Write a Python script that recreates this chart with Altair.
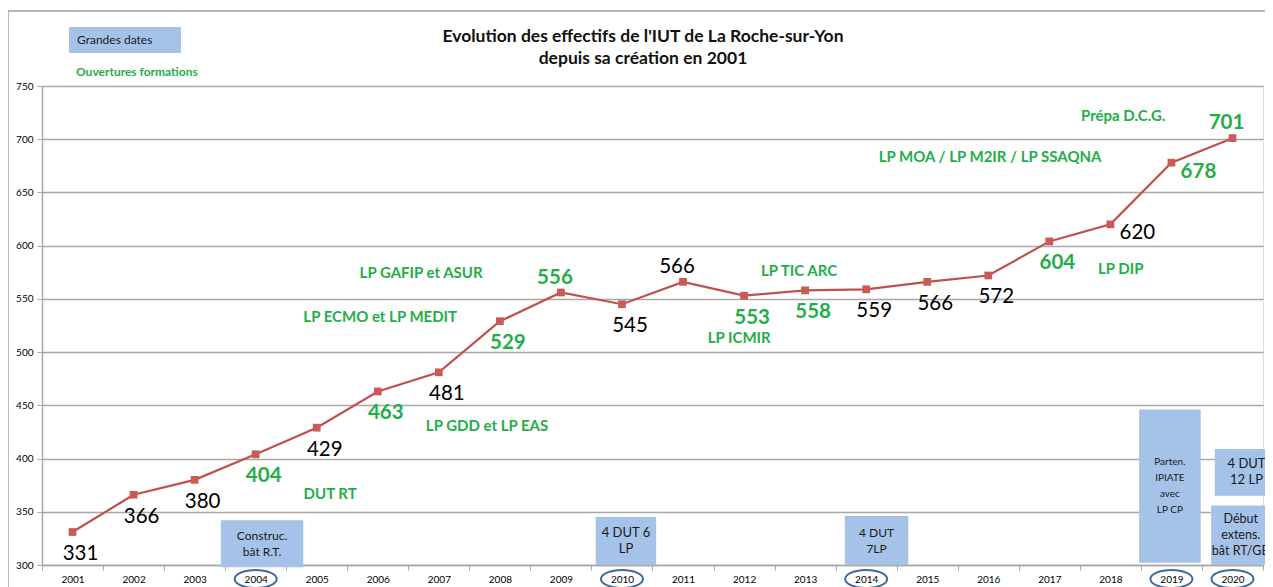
import altair as alt
import pandas as pd

# ---------------- data ----------------
annees = ["2001", "2002", "2003", "2004", "2005", "2006", "2007", "2008", "2009", "2010",
          "2011", "2012", "2013", "2014", "2015", "2016", "2017", "2018", "2019", "2020"]
effectifs = [331, 366, 380, 404, 429, 463, 481, 529, 556, 545,
             566, 553, 558, 559, 566, 572, 604, 620, 678, 701]
nouvelle_formation = [False, False, False, True, False, True, False, True, True, False,
                      False, True, True, False, False, False, True, False, True, True]
cote_etiquette = ["below", "below", "below", "below", "below", "below", "below", "below", "above", "below",
                  "above", "below", "below", "below", "below", "below", "below", "right", "right", "above"]

y_ticks = [300, 350, 400, 450, 500, 550, 600, 650, 700, 750]

titre = "Evolution des effectifs de l'IUT de La Roche-sur-Yon\ndepuis sa création en 2001"

# openings of new courses (anchor in year units / head-count units)
ouv_texte = ["DUT RT", "LP ECMO et LP MEDIT", "LP GAFIP et ASUR", "LP GDD et LP EAS", "LP ICMIR",
             "LP TIC ARC", "LP DIP", "LP MOA / LP M2IR / LP SSAQNA", "Prépa D.C.G."]
ouv_annee = [2005.22, 2006.04, 2006.71, 2007.79, 2011.92, 2012.90, 2018.17, 2016.03, 2018.21]
ouv_valeur = [367, 533, 574, 431, 513, 576, 578, 683, 722]

# key dates boxes
dates_texte = ["Construc.\nbât R.T.", "4 DUT 6\nLP", "4 DUT\n7LP", "Parten.\nIPIATE\navec\nLP CP",
               "4 DUT\n12 LP", "Début\nextens.\nbât RT/GB"]
dates_debut = [2003.43, 2009.57, 2013.65, 2018.47, 2019.71, 2019.65]
dates_fin = [2004.78, 2010.56, 2014.69, 2019.48, 2020.75, 2020.62]
dates_haut = [342, 345, 346, 446, 409, 356]
dates_bas = [298, 300, 300, 302, 365, 300]
dates_taille = [12, 13, 12, 10, 13, 12.5]

annees_cerclees = ["2004", "2010", "2014", "2019", "2020"]

# ---------------- styles ----------------
RED = "#c0504d"
GREEN = "#1fae48"
BLUE = "#a5c3e9"
GRID = "#a8a8a8"
FONT = "Lato"
W, H = 1221, 479
LH = 16  # line height of box texts (px)
PX_PER_UNIT = H / 450.0

df = pd.DataFrame({"annee": annees, "effectif": effectifs,
                   "nouveau": nouvelle_formation, "pos": cote_etiquette})
df_ouv = pd.DataFrame({"texte": ouv_texte, "an": ouv_annee, "val": ouv_valeur})
df_dates = pd.DataFrame({"texte": dates_texte, "x1": dates_debut, "x2": dates_fin,
                         "haut": dates_haut, "bas": dates_bas, "taille": dates_taille})
df_cercle = pd.DataFrame({"annee": annees_cerclees})
one = pd.DataFrame({"k": [0]})

y_axis = alt.Axis(values=y_ticks, title=None, grid=True, gridColor=GRID, gridWidth=1.5,
                  domainColor=GRID, domainWidth=1.5, tickColor=GRID, tickSize=5,
                  labelFont=FONT, labelFontSize=10, labelColor="#000", labelPadding=4)
y_scale = alt.Scale(domain=[300, 750], nice=False, zero=False)


def Y(field):
    return alt.Y(field, scale=y_scale, axis=y_axis)


band_scale = alt.Scale(domain=annees, paddingInner=0, paddingOuter=0)
x_axis = alt.Axis(title=None, labelAngle=0, tickBand="extent", grid=False,
                  domainColor=GRID, domainWidth=1.5, tickColor=GRID, tickSize=5,
                  labelFont=FONT, labelFontSize=10, labelColor="#000", labelPadding=4)
x_main = alt.X("annee:O", scale=band_scale, axis=x_axis)
x_band = alt.X("annee:O", scale=band_scale, axis=None)
q_scale = alt.Scale(domain=[2000.5, 2020.5], nice=False, zero=False)

base = alt.Chart(df)

# key-date boxes
boxes = alt.Chart(df_dates).mark_rect(color=BLUE).encode(
    x=alt.X("x1:Q", scale=q_scale, axis=None), x2="x2:Q",
    y=Y("haut:Q"), y2="bas:Q")
box_txt = alt.Chart(df_dates).transform_calculate(
    xm="(datum.x1 + datum.x2) / 2",
    ym=f"(datum.haut + datum.bas) / 2 + (length(split(datum.texte, '\\n')) - 1) / 2 * {LH} / {PX_PER_UNIT}"
).mark_text(font=FONT, color="#1a1a1a", lineBreak="\n", baseline="middle", lineHeight=LH).encode(
    x=alt.X("xm:Q", scale=q_scale, axis=None), y=Y("ym:Q"),
    text="texte:N", size=alt.Size("taille:Q", scale=None, legend=None))

line = base.mark_line(color=RED, strokeWidth=2.2).encode(x=x_main, y=Y("effectif:Q"))
pts = base.mark_point(shape="square", filled=True, size=60, color="#c95b57", opacity=1).encode(
    x=x_band, y=Y("effectif:Q"))

label_layers = []
offsets = {"below": (8, 22), "above": (-6, -15), "right": (27, 9)}
for pos, (dx, dy) in offsets.items():
    for nouveau in (True, False):
        label_layers.append(
            base.transform_filter(
                f"datum.pos == '{pos}' && datum.nouveau == {'true' if nouveau else 'false'}"
            ).mark_text(font=FONT, fontSize=20.5, dx=dx, dy=dy, baseline="middle",
                        fontWeight="bold" if nouveau else "normal",
                        color=GREEN if nouveau else "#000").encode(
                x=x_band, y=Y("effectif:Q"), text="effectif:Q"))

ouv = alt.Chart(df_ouv).mark_text(font=FONT, fontSize=15, fontWeight="bold", color=GREEN,
                                  baseline="middle").encode(
    x=alt.X("an:Q", scale=q_scale, axis=None), y=Y("val:Q"), text="texte:N")

ellipse = "M -1 0 A 1 0.43 0 1 0 1 0 A 1 0.43 0 1 0 -1 0 Z"
cercles = alt.Chart(df_cercle).mark_point(shape=ellipse, size=1764, filled=False,
                                          stroke="#3f6a99", strokeWidth=2, opacity=1).encode(
    x=x_band, y=alt.value(H + 14))

# frame, title and legend (decoration)
frame_top = alt.Chart(one).mark_rule(color="#a0a0a0", strokeWidth=1.5).encode(
    x=alt.value(-34), x2=alt.value(W + 2), y=alt.value(-75))
frame_left = alt.Chart(one).mark_rule(color="#a0a0a0", strokeWidth=1.5).encode(
    x=alt.value(-34), y=alt.value(-75), y2=alt.value(H + 30))
title_txt = alt.Chart(one).mark_text(font=FONT, fontSize=17.5, fontWeight="bold", color="#111",
                                     align="center", baseline="middle", lineBreak="\n",
                                     lineHeight=22, text=titre).encode(
    x=alt.value(601), y=alt.value(-49))
leg_box = alt.Chart(one).mark_rect(color=BLUE).encode(
    x=alt.value(27), x2=alt.value(139), y=alt.value(-59), y2=alt.value(-33))
leg_txt1 = alt.Chart(one).mark_text(font=FONT, fontSize=12, color="#1a1a1a", align="left",
                                    baseline="middle", text="Grandes dates").encode(
    x=alt.value(35), y=alt.value(-46))
leg_txt2 = alt.Chart(one).mark_text(font=FONT, fontSize=12, fontWeight="bold", color=GREEN,
                                    align="left", baseline="middle",
                                    text="Ouvertures formations").encode(
    x=alt.value(34), y=alt.value(-14))

chart = alt.layer(
    frame_top, frame_left, title_txt, leg_box, leg_txt1, leg_txt2,
    boxes, box_txt, line, pts, *label_layers, ouv, cercles
).resolve_scale(x="independent").properties(
    width=W, height=H,
    autosize=alt.AutoSizeParams(type="none"),
    padding={"left": 34, "top": 78, "right": 2, "bottom": 22},
).configure_view(stroke=None).configure(background="white")

chart.save("out.html", embed_options={"renderer": "svg", "actions": False})
